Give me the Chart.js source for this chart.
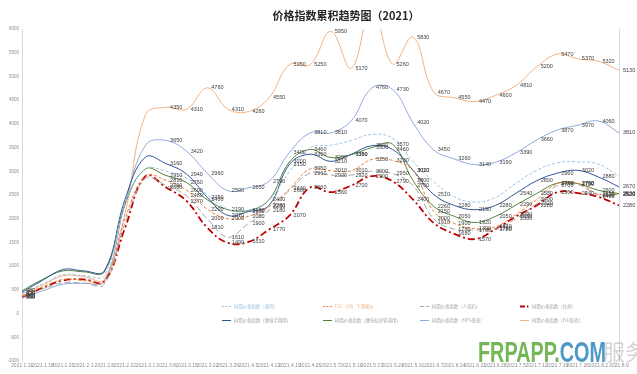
<!DOCTYPE html>
<html>
<head>
<meta charset="utf-8">
<script src="https://cdn.jsdelivr.net/npm/chart.js@4.4.1/dist/chart.umd.min.js"></script>
<style>
html,body{margin:0;padding:0;background:#fff;}
#wrap{width:637px;height:374px;position:relative;}
</style>
</head>
<body>
<div id="wrap"><canvas id="c" width="637" height="374"></canvas></div>
<script>
const categories = ["2021.1.11","2021.1.18","2021.1.25","2021.2.1","2021.2.8","2021.2.22","2021.3.1","2021.3.8","2021.3.15","2021.3.22","2021.3.29","2021.4.5","2021.4.12","2021.4.19","2021.4.26","2021.5.7","2021.5.10","2021.5.17","2021.5.24","2021.5.31","2021.6.7","2021.6.14","2021.6.21","2021.6.28","2021.7.5","2021.7.12","2021.7.19","2021.7.26","2021.8.2","2021.8.9"];

const seriesNames = ["树脂价格指数（通用）","ESL（33）下游报价","树脂价格指数（人造石）","树脂价格指数（拉挤）","树脂价格指数（缠绕手糊用）","树脂价格指数（缠绕拉挤管道用）","树脂价格指数（NPG胶衣）","树脂价格指数（ISO胶衣）"];

const s1 = [420,620,820,800,800,2300,3050,3000,2850,2500,2200,2180,2400,3000,3500,3550,3650,3780,3700,3200,2780,2460,2350,2450,2750,3020,3180,3200,3150,2900];
const s2 = [380,560,720,700,680,2000,2900,2810,2600,2200,2000,2050,2250,2630,3050,3010,3010,3250,3230,3010,2150,1900,1790,1830,2090,2400,2740,2750,2520,2520];
const s3 = [360,520,650,640,620,1900,2850,2700,2480,2000,1610,1900,2180,2600,2960,2920,2920,3000,2950,2700,2000,1780,1760,1790,2000,2320,2700,2720,2500,2520];
const s4 = [350,540,700,720,680,1800,2900,2660,2370,1810,1490,1510,1770,2070,2660,2560,2700,2900,2790,2400,1910,1680,1570,1780,2050,2280,2560,2540,2460,2280];
const s5 = [450,700,930,900,900,2400,3300,3160,2940,2450,2070,2150,2280,3150,3360,3210,3360,3540,3460,3020,2510,2280,2190,2280,2540,2800,2960,3020,2880,2670];
const s6 = [480,720,900,880,880,2300,3050,2910,2760,2400,2190,2170,2400,3200,3460,3290,3350,3500,3570,2800,2260,2050,1920,2050,2290,2530,2750,2740,2600,2530];
const s7 = [330,480,620,640,680,2300,3550,3650,3420,2960,2590,2650,2790,3400,3810,3810,4070,4760,4730,4020,3450,3260,3140,3190,3390,3660,3870,3970,4060,3810];
const s8 = [420,600,800,780,720,2100,4200,4350,4310,4760,4310,4260,4550,5250,5250,5950,5170,6500,5260,5830,4670,4550,4470,4600,4810,5200,5470,5370,5320,5130];

const yTicks = {min:-1000, max:6000, step:500};
const titleText = "价格指数累积趋势图（2021）";
const unlabeledPoints = [1,2,3,4,5,6];

const styles = [
  {color:'#9dc3e6', width:1, dash:[3,2], labels:false, text:'#9dc3e6'},
  {color:'#ed7d31', width:1, dash:[3,2], labels:true, text:'#f4b183'},
  {color:'#a5a5a5', width:1, dash:[6,3], labels:true, text:'#a5a5a5'},
  {color:'#c00000', width:1.8, dash:[7,3,2,3], labels:true, text:'#a5a5a5'},
  {color:'#2f5597', width:1, dash:[], labels:true, text:'#a5a5a5'},
  {color:'#548235', width:1, dash:[], labels:true, text:'#a5a5a5'},
  {color:'#8faadc', width:1, dash:[], labels:true, text:'#a5a5a5'},
  {color:'#f4b183', width:1, dash:[], labels:true, text:'#a5a5a5'}
];
const allSeries = [s1,s2,s3,s4,s5,s6,s7,s8];

const datasets = allSeries.map((d,i)=>({
  label: seriesNames[i],
  data: d,
  borderColor: styles[i].color,
  backgroundColor: styles[i].color,
  borderWidth: styles[i].width,
  borderDash: styles[i].dash,
  pointRadius: 0,
  tension: 0.4,
  fill: false,
  showLabels: styles[i].labels
}));

const labelPlugin = {
  id:'pointLabels',
  afterDatasetsDraw(chart){
    const {ctx, chartArea:a} = chart;
    ctx.save();
    ctx.beginPath(); ctx.rect(a.left, a.top, chart.width-a.left, a.bottom-a.top); ctx.clip();
    ctx.font = '5.5px "Liberation Sans", Arial, sans-serif';
    ctx.fillStyle = '#404040';
    ctx.textAlign = 'left'; ctx.textBaseline = 'middle';
    chart.data.datasets.forEach((ds,i)=>{
      if(!ds.showLabels) return;
      const meta = chart.getDatasetMeta(i);
      meta.data.forEach((pt,j)=>{
        if(unlabeledPoints.includes(j)) return;
        ctx.fillText(String(ds.data[j]), pt.x+4, pt.y);
      });
    });
    ctx.restore();
  }
};

const decorPlugin = {
  id:'decor',
  afterDraw(chart){
    const {ctx, chartArea:a} = chart;
    ctx.save();
    ctx.strokeStyle = '#d9d9d9'; ctx.lineWidth = 1;
    ctx.beginPath(); ctx.moveTo(a.right+0.5, a.top); ctx.lineTo(a.right+0.5, a.bottom); ctx.stroke();
    ctx.fillStyle = '#262626';
    ctx.font = 'bold 11px "Noto Sans CJK SC", sans-serif';
    ctx.textAlign = 'center'; ctx.textBaseline = 'middle';
    ctx.fillText(titleText, 346, 16);
    const cols = [222, 323, 420, 520];
    const rows = [306, 320];
    ctx.font = '4.4px "Noto Sans CJK SC", sans-serif';
    ctx.textAlign = 'left';
    chart.data.datasets.forEach((ds,i)=>{
      const cx = cols[i%4], cy = rows[Math.floor(i/4)];
      ctx.strokeStyle = styles[i].color;
      ctx.lineWidth = styles[i].width;
      ctx.setLineDash(styles[i].dash.map(v=>v*0.7));
      ctx.beginPath(); ctx.moveTo(cx, cy+0.5); ctx.lineTo(cx+9, cy+0.5); ctx.stroke();
      ctx.setLineDash([]);
      ctx.fillStyle = styles[i].text;
      ctx.fillText(ds.label, cx+12, cy);
    });
    ctx.textBaseline = 'alphabetic';
    ctx.font = 'bold 30px "Liberation Sans", Arial, sans-serif';
    const w1 = ctx.measureText('FRPAPP.').width;
    const w2 = ctx.measureText('COM').width;
    const sx = 128/(w1+w2);
    ctx.translate(478, 362);
    ctx.scale(sx, 1);
    ctx.fillStyle = 'rgba(92,170,60,0.85)';
    ctx.fillText('FRPAPP.', 0, 0);
    ctx.fillStyle = 'rgba(46,134,193,0.85)';
    ctx.fillText('COM', w1, 0);
    ctx.setTransform(1,0,0,1,0,0);
    ctx.fillStyle = 'rgba(160,160,160,0.45)';
    ctx.font = '22px "Noto Sans CJK SC", sans-serif';
    ctx.fillText('服务', 603, 360);
    ctx.restore();
  }
};

new Chart(document.getElementById('c'), {
  type:'line',
  data:{labels:categories, datasets},
  options:{
    responsive:false,
    animation:false,
    layout:{padding:{left:0, top:29, right:18, bottom:0}},
    plugins:{legend:{display:false}, title:{display:false}, tooltip:{enabled:false}},
    scales:{
      x:{
        grid:{display:false, drawTicks:false},
        border:{display:false},
        ticks:{autoSkip:false, maxRotation:0, minRotation:0, padding:2, color:'#8c8c8c', font:{size:5, family:'"Liberation Sans", Arial'}},
        afterFit(s){ s.height = 13; }
      },
      y:{
        min:yTicks.min, max:yTicks.max,
        grid:{display:false, drawTicks:false},
        border:{display:true, color:'#d9d9d9'},
        ticks:{stepSize:yTicks.step, color:'#8c8c8c', padding:3, font:{size:4.5, family:'"Liberation Sans", Arial'}, callback:(v)=>String(v)},
        afterFit(s){ s.width = 22; }
      }
    }
  },
  plugins:[labelPlugin, decorPlugin]
});
</script>
</body>
</html>
